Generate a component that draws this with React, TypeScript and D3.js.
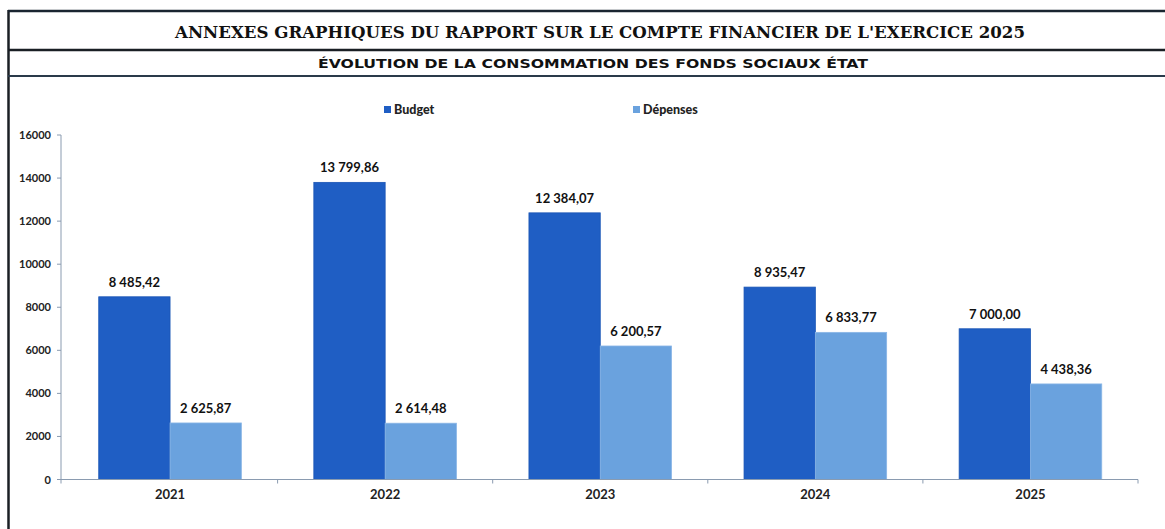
import React from "react";
import * as d3 from "d3";

const years = ["2021", "2022", "2023", "2024", "2025"];
const budget = [8485.42, 13799.86, 12384.07, 8935.47, 7000.0];
const depenses = [2625.87, 2614.48, 6200.57, 6833.77, 4438.36];
const yTicks = [0, 2000, 4000, 6000, 8000, 10000, 12000, 14000, 16000];
const seriesNames = ["Budget", "Dépenses"];
const seriesColors = ["#1f5ec4", "#6aa2de"];
const title = "ANNEXES GRAPHIQUES DU RAPPORT SUR LE COMPTE FINANCIER DE L'EXERCICE 2025";
const subtitle = "ÉVOLUTION DE LA CONSOMMATION DES FONDS SOCIAUX ÉTAT";

const W = 1165;
const H = 529;
const plot = { left: 62.5, right: 1138, top: 135, bottom: 479.5 };

const fr = d3.formatLocale({ decimal: ",", thousands: "\u00a0", grouping: [3], currency: ["", " €"] });
const fmt = fr.format(",.2f");

export default function App() {
  const x = d3.scaleBand<string>().domain(years).range([plot.left, plot.right]).paddingInner(0.337).paddingOuter(0.1685);
  const xs = d3.scaleBand<string>().domain(seriesNames).range([0, x.bandwidth()]);
  const y = d3.scaleLinear().domain([0, 16000]).range([plot.bottom, plot.top]);
  const series = [budget, depenses];
  const step = x.step();
  const boundaries = d3.range(years.length + 1).map((i) => plot.left + i * step);
  const labelFont = "Lato, 'Open Sans', sans-serif";
  const axisX = 61;

  return (
    <svg width={W} height={H} style={{ position: "absolute", left: 0, top: 0, background: "#fff" }}>
      <rect x={0} y={0} width={W} height={H} fill="#fff" />
      {/* frame */}
      <line x1={8.5} x2={8.5} y1={10} y2={H} stroke="#1a1f24" strokeWidth={2.5} />
      <line x1={8} x2={W} y1={11} y2={11} stroke="#1a2530" strokeWidth={2.5} />
      <line x1={8} x2={W} y1={50} y2={50} stroke="#1a1f24" strokeWidth={2.5} />
      <line x1={8} x2={W} y1={76} y2={76} stroke="#2a3a4a" strokeWidth={2} />
      <text x={600} y={37.5} textAnchor="middle" fontFamily="'DejaVu Serif', 'Liberation Serif', serif" fontWeight="bold" fontSize={16.5} fill="#111" textLength={850} lengthAdjust="spacingAndGlyphs">{title}</text>
      <text x={593} y={68} textAnchor="middle" fontFamily="'DejaVu Sans', Verdana, sans-serif" fontWeight="bold" fontSize={13} fill="#111" textLength={550} lengthAdjust="spacingAndGlyphs">{subtitle}</text>

      {/* legend */}
      {seriesNames.map((s, i) => {
        const lx = i === 0 ? 384 : 633;
        return (
          <g key={s}>
            <rect x={lx} y={106} width={7} height={7} fill={seriesColors[i]} />
            <text x={lx + 10} y={114} fontFamily={labelFont} fontWeight="900" fontSize={12.5} fill="#222">{s}</text>
          </g>
        );
      })}

      {/* y axis */}
      <line x1={axisX} x2={axisX} y1={plot.top} y2={plot.bottom} stroke="#8a9bb0" strokeWidth={1} />
      {yTicks.map((t) => (
        <g key={t}>
          <line x1={axisX - 4} x2={axisX} y1={y(t)} y2={y(t)} stroke="#8a9bb0" />
          <text x={51} y={y(t) + 4} textAnchor="end" fontFamily={labelFont} fontWeight="bold" fontSize={11} fill="#222">{t}</text>
        </g>
      ))}

      {/* bars */}
      {years.map((yr, i) => (
        <g key={yr}>
          {series.map((vals, j) => {
            const bx = (x(yr) as number) + (xs(seriesNames[j]) as number);
            const bw = xs.bandwidth();
            return (
              <g key={j}>
                <rect x={bx} y={y(vals[i])} width={bw} height={plot.bottom - y(vals[i])} fill={seriesColors[j]} stroke={j === 0 ? "#1a55b5" : "#8ab6e6"} strokeWidth={0.8} />
                <text x={bx + bw / 2} y={y(vals[i]) - 10} textAnchor="middle" fontFamily={labelFont} fontWeight="bold" fontSize={13} fill="#111">{fmt(vals[i])}</text>
              </g>
            );
          })}
          <text x={(x(yr) as number) + x.bandwidth() / 2} y={499} textAnchor="middle" fontFamily={labelFont} fontWeight="bold" fontSize={13} fill="#222">{yr}</text>
        </g>
      ))}

      {/* x axis */}
      <line x1={axisX - 4} x2={plot.right} y1={plot.bottom} y2={plot.bottom} stroke="#8a9bb0" strokeWidth={1} />
      {boundaries.map((b, i) => (
        <line key={i} x1={i === 0 ? axisX : b} x2={i === 0 ? axisX : b} y1={plot.bottom} y2={plot.bottom + 4} stroke="#8a9bb0" />
      ))}
    </svg>
  );
}
